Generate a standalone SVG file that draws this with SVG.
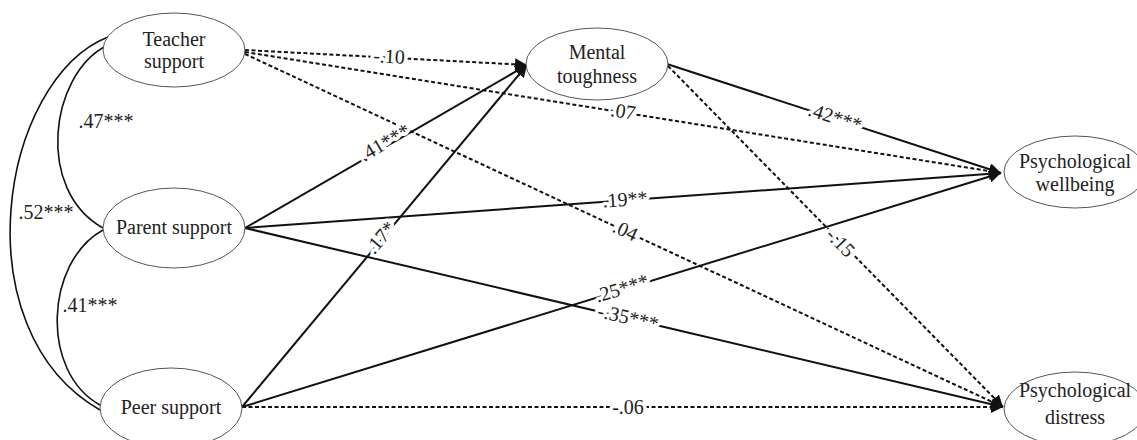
<svg xmlns="http://www.w3.org/2000/svg" width="1137" height="440" viewBox="0 0 1137 440">
<style>
.node ellipse{fill:#fff;stroke:#555;stroke-width:1}
.node text{font-family:"Liberation Serif","Times New Roman",serif;font-size:20px;fill:#222;text-anchor:middle}
.path{fill:none;stroke:#111;stroke-width:2}
.dash{stroke-dasharray:4 2.5}
.corr{fill:none;stroke:#111;stroke-width:1.6}
.lbl{font-family:"Liberation Serif","Times New Roman",serif;font-size:20px;fill:#222;text-anchor:middle;stroke:#fff;stroke-width:7;paint-order:stroke;stroke-linejoin:round}
</style>
<defs>
<marker id="ah" markerUnits="userSpaceOnUse" markerWidth="12" markerHeight="12" viewBox="0 0 12 12" refX="12" refY="6" orient="auto">
<path d="M0,0 L12,6 L0,12 z" fill="#111"/>
</marker>
</defs>
<rect width="1137" height="440" fill="#fff"/>
<g id="connectors">
<path class="corr" d="M106,46 C50,75 35,190 103,228"/>
<path class="corr" d="M103,230 C45,262 40,372 100,405"/>
<path class="corr" d="M108,37 C0,80 -40,330 100,410"/>
<line class="path dash" x1="245" y1="50" x2="527" y2="65" marker-end="url(#ah)"/>
<line class="path dash" x1="245" y1="52" x2="1001" y2="173" marker-end="url(#ah)"/>
<line class="path dash" x1="245" y1="54" x2="1003" y2="407" marker-end="url(#ah)"/>
<line class="path" x1="245" y1="228" x2="527" y2="65" marker-end="url(#ah)"/>
<line class="path" x1="245" y1="228" x2="1001" y2="173" marker-end="url(#ah)"/>
<line class="path" x1="245" y1="228" x2="1003" y2="407" marker-end="url(#ah)"/>
<line class="path" x1="242" y1="407" x2="527" y2="65" marker-end="url(#ah)"/>
<line class="path" x1="242" y1="407" x2="1001" y2="173" marker-end="url(#ah)"/>
<line class="path dash" x1="242" y1="407" x2="1003" y2="407" marker-end="url(#ah)"/>
<line class="path" x1="667" y1="64" x2="1001" y2="173" marker-end="url(#ah)"/>
<line class="path dash" x1="668" y1="66" x2="1003" y2="407" marker-end="url(#ah)"/>
<text class="lbl" transform="translate(389,57) rotate(3)" y="6">-.10</text>
<text class="lbl" transform="translate(623,112) rotate(9)" y="6">.07</text>
<text class="lbl" transform="translate(625,231) rotate(25)" y="6">.04</text>
<text class="lbl" transform="translate(385,143) rotate(-30)" y="6">.41***</text>
<text class="lbl" transform="translate(625,200) rotate(-4)" y="6">.19**</text>
<text class="lbl" transform="translate(628,318) rotate(13)" y="6">-.35***</text>
<text class="lbl" transform="translate(381,238) rotate(-50)" y="6">.17*</text>
<text class="lbl" transform="translate(622,289) rotate(-17)" y="6">.25***</text>
<text class="lbl" transform="translate(628,408)" y="6">-.06</text>
<text class="lbl" transform="translate(835,118) rotate(18)" y="6">.42***</text>
<text class="lbl" transform="translate(840,243) rotate(46)" y="6">-.15</text>
<text class="lbl" x="106" y="128">.47***</text>
<text class="lbl" x="46" y="219">.52***</text>
<text class="lbl" x="90" y="312">.41***</text>
</g>
<g id="teacher" class="node"><ellipse cx="174" cy="50" rx="71" ry="37"/><text x="174" y="46">Teacher</text><text x="174" y="68">support</text></g>
<g id="parent" class="node"><ellipse cx="174" cy="228" rx="71" ry="40"/><text x="174" y="234">Parent support</text></g>
<g id="peer" class="node"><ellipse cx="171" cy="408" rx="71" ry="40"/><text x="171" y="414">Peer support</text></g>
<g id="mental" class="node"><ellipse cx="597" cy="64" rx="71" ry="36"/><text x="597" y="59">Mental</text><text x="597" y="83">toughness</text></g>
<g id="wellbeing" class="node"><ellipse cx="1075" cy="172" rx="71" ry="36"/><text x="1075" y="168">Psychological</text><text x="1075" y="191">wellbeing</text></g>
<g id="distress" class="node"><ellipse cx="1075" cy="409" rx="71" ry="37"/><text x="1075" y="397">Psychological</text><text x="1075" y="424">distress</text></g>
</svg>
